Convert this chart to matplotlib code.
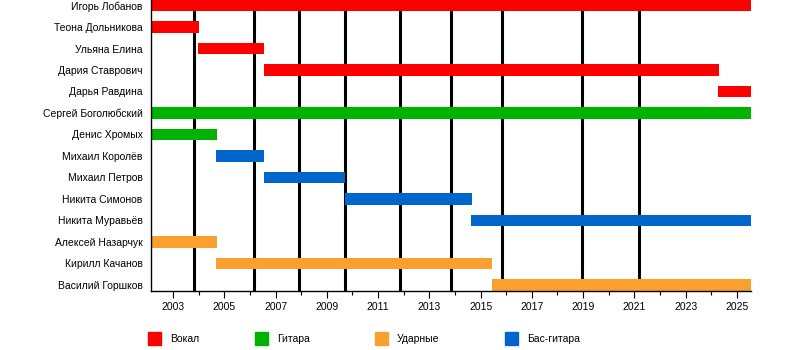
import matplotlib.pyplot as plt
from matplotlib.patches import Rectangle

# === Data ===
members = [
    "Игорь Лобанов", "Теона Дольникова", "Ульяна Елина", "Дария Ставрович",
    "Дарья Равдина", "Сергей Боголюбский", "Денис Хромых", "Михаил Королёв",
    "Михаил Петров", "Никита Симонов", "Никита Муравьёв", "Алексей Назарчук",
    "Кирилл Качанов", "Василий Горшков",
]
starts = [2002.14, 2002.14, 2003.98, 2006.53, 2024.27, 2002.14, 2002.14, 2004.69,
          2006.53, 2009.69, 2014.64, 2002.14, 2004.69, 2015.44]
ends = [2025.55, 2004.0, 2006.55, 2024.29, 2025.55, 2025.55, 2004.71, 2006.55,
        2009.71, 2014.66, 2025.55, 2004.71, 2015.44, 2025.55]
roles = ["Вокал", "Вокал", "Вокал", "Вокал", "Вокал", "Гитара", "Гитара",
         "Бас-гитара", "Бас-гитара", "Бас-гитара", "Бас-гитара",
         "Ударные", "Ударные", "Ударные"]

legend_labels = ["Вокал", "Гитара", "Ударные", "Бас-гитара"]
role_colors = {"Вокал": "#ff0000", "Гитара": "#00b300",
               "Ударные": "#fba02e", "Бас-гитара": "#0066cc"}

# album release dates (vertical lines)
albums = [2003.82, 2006.16, 2007.90, 2009.71, 2011.85, 2013.83, 2015.83, 2018.95, 2021.17]

x_min, x_max = 2002.14, 2025.55

# === Plot Configuration ===
plt.rcParams.update({
    "font.family": ["Liberation Sans", "DejaVu Sans"],
    "font.size": 7.5,
})

fig = plt.figure(figsize=(8, 3.5), dpi=100)
ax = fig.add_axes([151 / 800, 59 / 350, 600 / 800, 291 / 350])

for year in albums:
    ax.axvline(year, ymax=0.96, color="black", linewidth=2.2, zorder=1)

for i, (s, e, r) in enumerate(zip(starts, ends, roles)):
    ax.barh(i, e - s, left=s, height=0.52, color=role_colors[r], zorder=2)

ax.set_xlim(x_min, x_max)
ax.set_ylim(13.28, -0.256)
ax.set_yticks(range(len(members)))
ax.set_yticklabels(members)
ax.tick_params(axis="y", length=0, pad=6)

ax.set_xticks(range(2003, 2026, 2))
ax.set_xticks(range(2003, 2026), minor=True)
ax.tick_params(axis="x", which="major", length=5, width=0.8, pad=3)
ax.tick_params(axis="x", which="minor", length=3, width=0.8)

for side in ["top", "right"]:
    ax.spines[side].set_visible(False)
ax.spines["left"].set_linewidth(1.0)
ax.spines["bottom"].set_linewidth(1.0)

# === Legend ===
legend_x = [148, 255, 375, 505]
for lx, label in zip(legend_x, legend_labels):
    fig.add_artist(Rectangle((lx / 800, 1 - 345 / 350), 13 / 800, 13 / 350,
                             transform=fig.transFigure, color=role_colors[label]))
    fig.text((lx + 22) / 800, 1 - 339 / 350, label, va="center", ha="left", fontsize=7.5)

fig.savefig("out.png", dpi=100)
